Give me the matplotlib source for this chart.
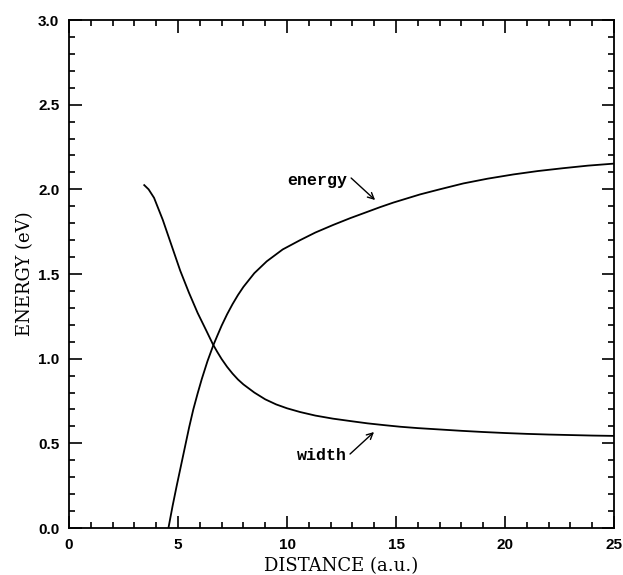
import matplotlib
matplotlib.use("Agg")
import matplotlib.pyplot as plt
from matplotlib.ticker import MultipleLocator, FormatStrFormatter

# curves
energy_x = [4.56, 4.75, 4.94, 5.13, 5.32, 5.51, 5.70, 5.9, 6.09, 6.35, 6.62, 6.8, 7.0, 7.25,
            7.5, 7.75, 8.0, 8.5, 9.07, 9.8, 10.6, 11.3, 12.12, 12.9, 13.66, 14.27, 14.88,
            16.1, 17.0, 18.09, 19.2, 20.38, 21.5, 22.67, 23.8, 25.0]
energy_y = [0.0, 0.13, 0.25, 0.365, 0.48, 0.595, 0.70, 0.795, 0.88, 0.985, 1.08, 1.135,
            1.195, 1.262, 1.322, 1.376, 1.424, 1.505, 1.575, 1.645, 1.70, 1.745, 1.79, 1.83,
            1.866, 1.895, 1.922, 1.97, 2.0, 2.035, 2.063, 2.088, 2.108, 2.125, 2.14, 2.152]

width_x = [3.45, 3.65, 3.9, 4.3, 4.7, 5.1, 5.5, 5.9, 6.3, 6.6, 6.8, 7.0, 7.25, 7.5, 7.75,
           8.0, 8.5, 9.0, 9.5, 10.0, 10.6, 11.3, 12.1, 13.0, 13.7, 14.5, 15.2, 16.0, 17.0,
           18.0, 19.0, 20.0, 21.0, 22.0, 23.0, 24.0, 25.0]
width_y = [2.025, 2.0, 1.95, 1.82, 1.67, 1.52, 1.39, 1.27, 1.165, 1.085, 1.04, 0.998,
           0.952, 0.912, 0.877, 0.848, 0.80, 0.76, 0.73, 0.707, 0.685, 0.664, 0.646, 0.63,
           0.618, 0.607, 0.598, 0.59, 0.582, 0.574, 0.567, 0.561, 0.556, 0.552, 0.549,
           0.546, 0.544]

fig = plt.figure(figsize=(6.23, 5.75), dpi=100)
ax = fig.add_axes([0.1108, 0.0817, 0.8748, 0.8835])

ax.plot(energy_x, energy_y, color="black", lw=1.3)
ax.plot(width_x, width_y, color="black", lw=1.3)

# curve labels with little arrows
lab_font = dict(family="Liberation Mono", weight="bold", size=12)
arrow = dict(arrowstyle="->", color="black", lw=1.0, shrinkA=0, shrinkB=0, mutation_scale=11)
ax.text(12.75, 2.026, "energy", ha="right", va="baseline", **lab_font)
ax.annotate("", xy=(14.04, 1.937), xytext=(12.94, 2.067), arrowprops=arrow)
ax.text(12.75, 0.402, "width", ha="right", va="baseline", **lab_font)
ax.annotate("", xy=(13.99, 0.567), xytext=(12.89, 0.437), arrowprops=arrow)

ax.set_xlim(0, 25)
ax.set_ylim(0, 3.0)
ax.xaxis.set_major_locator(MultipleLocator(5))
ax.xaxis.set_minor_locator(MultipleLocator(1))
ax.yaxis.set_major_locator(MultipleLocator(0.5))
ax.yaxis.set_minor_locator(MultipleLocator(0.1))
ax.yaxis.set_major_formatter(FormatStrFormatter("%.1f"))
ax.tick_params(which="both", direction="in", top=True, right=True, width=1.2)
ax.tick_params(which="major", length=9, pad=7)
ax.tick_params(which="minor", length=4.5)
for lbl in ax.get_xticklabels() + ax.get_yticklabels():
    lbl.set_fontfamily("Liberation Sans")
    lbl.set_fontweight("bold")
    lbl.set_fontsize(11)
for s in ax.spines.values():
    s.set_linewidth(1.3)

ax.set_xlabel("DISTANCE (a.u.)", family="DejaVu Serif", fontsize=13, labelpad=4)
ax.set_ylabel("ENERGY (eV)", family="DejaVu Serif", fontsize=13, labelpad=3)

fig.savefig("out.png", dpi=100)
